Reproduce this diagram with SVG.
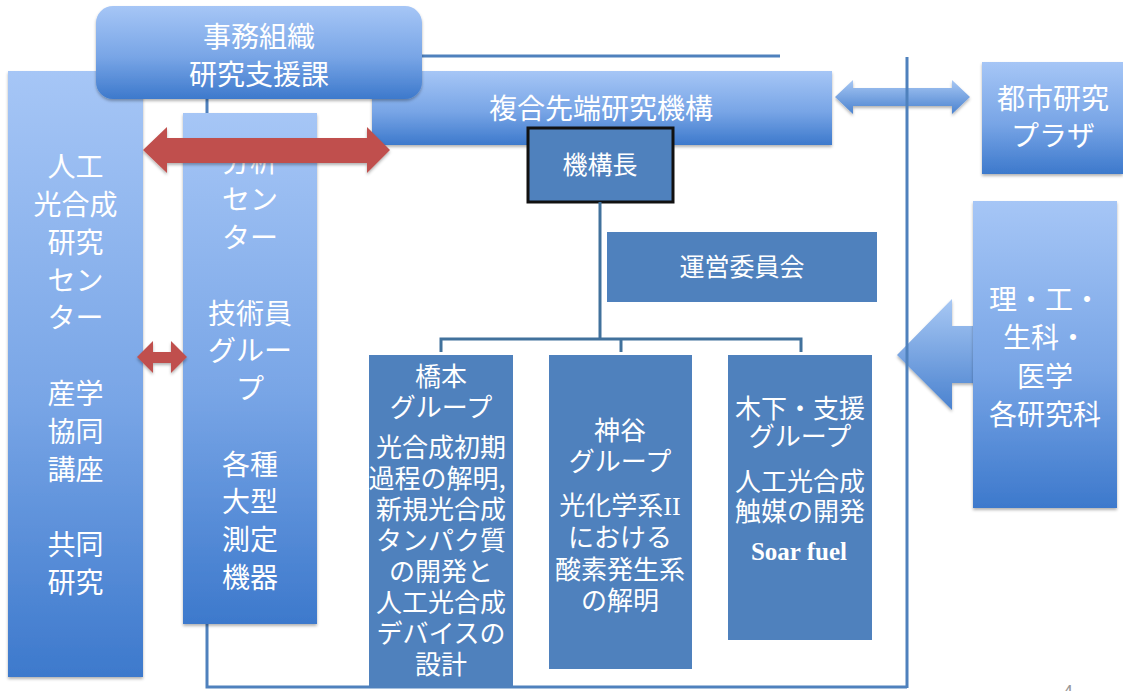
<svg xmlns="http://www.w3.org/2000/svg" width="1123" height="691" viewBox="0 0 1123 691">
<defs>
<linearGradient id="gb" x1="0" y1="0" x2="0" y2="1">
<stop offset="0" stop-color="#a6c6f6"/>
<stop offset="0.55" stop-color="#78a5e6"/>
<stop offset="1" stop-color="#3d79cc"/>
</linearGradient>
<linearGradient id="ga" x1="0" y1="0" x2="0" y2="1">
<stop offset="0" stop-color="#a8c8f4"/>
<stop offset="1" stop-color="#4a82cf"/>
</linearGradient>
<filter id="sh" x="-10%" y="-10%" width="130%" height="130%">
<feDropShadow dx="0" dy="2" stdDeviation="1.5" flood-color="#000" flood-opacity="0.3"/>
</filter>
</defs>
<style>
.t{font-family:"Noto Sans CJK JP","Noto Sans",sans-serif;fill:#fff;text-anchor:middle}
.big{font-size:28px}
.mid{font-size:26px}
.sm{font-size:25px}
.grad{fill:url(#gb);filter:url(#sh)}
.flat{fill:#4f81bd}
.ln{stroke:#4f81bd;stroke-width:3;fill:none}
.ln2{stroke:#41719c;stroke-width:3;fill:none}
.red{fill:#c0504d;filter:url(#sh)}
.barr{fill:url(#ga);filter:url(#sh)}
</style>
<rect width="1123" height="691" fill="#fff"/>

<g id="connectors-back">
<line class="ln" x1="400" y1="56" x2="780" y2="56"/>
<line class="ln" x1="207" y1="95" x2="207" y2="115"/>
<polyline class="ln" points="207,620 207,687 907,687"/>
</g>

<g id="n-left">
<rect class="grad" x="8" y="71" width="135" height="606"/>
<text class="t big" x="75.5"><tspan x="75.5" y="177">人工</tspan><tspan x="75.5" y="215">光合成</tspan><tspan x="75.5" y="253">研究</tspan><tspan x="75.5" y="291">セン</tspan><tspan x="75.5" y="328">ター</tspan><tspan x="75.5" y="404">産学</tspan><tspan x="75.5" y="442">協同</tspan><tspan x="75.5" y="480">講座</tspan><tspan x="75.5" y="555">共同</tspan><tspan x="75.5" y="593">研究</tspan></text>
</g>

<g id="n-bunseki">
<rect class="grad" x="183" y="113" width="134" height="511"/>
<text class="t big" x="250"><tspan x="250" y="172">分析</tspan><tspan x="250" y="210">セン</tspan><tspan x="250" y="248">ター</tspan><tspan x="250" y="324">技術員</tspan><tspan x="250" y="361">グルー</tspan><tspan x="250" y="399">プ</tspan><tspan x="250" y="475">各種</tspan><tspan x="250" y="512">大型</tspan><tspan x="250" y="550">測定</tspan><tspan x="250" y="588">機器</tspan></text>
</g>

<g id="n-fukugo">
<rect class="grad" x="372" y="71" width="460" height="74"/>
<text class="t big" x="601" y="119">複合先端研究機構</text>
</g>

<g id="n-jimu">
<rect class="grad" x="96" y="6" width="326" height="93" rx="17"/>
<text class="t big"><tspan x="259" y="47">事務組織</tspan><tspan x="259" y="85">研究支援課</tspan></text>
</g>

<g id="n-kikocho">
<rect x="528" y="128" width="145" height="74" fill="#4f81bd" stroke="#111" stroke-width="3"/>
<text class="t sm" x="600" y="174">機構長</text>
</g>

<g id="n-unei">
<rect class="flat" x="607" y="232" width="270" height="70"/>
<text class="t sm" x="742" y="276">運営委員会</text>
</g>

<g id="n-hashimoto">
<rect class="flat" x="369" y="355" width="144" height="331"/>
<text class="t mid"><tspan x="441" y="386">橋本</tspan><tspan x="441" y="417">グループ</tspan><tspan x="441" y="457">光合成初期</tspan><tspan x="437" y="488">過程の解明,</tspan><tspan x="441" y="519">新規光合成</tspan><tspan x="441" y="550">タンパク質</tspan><tspan x="441" y="581">の開発と</tspan><tspan x="441" y="612">人工光合成</tspan><tspan x="441" y="643">デバイスの</tspan><tspan x="441" y="674">設計</tspan></text>
</g>

<g id="n-kamiya">
<rect class="flat" x="549" y="355" width="143" height="314"/>
<text class="t mid"><tspan x="620" y="440">神谷</tspan><tspan x="620" y="471">グループ</tspan><tspan x="620" y="515">光化学系<tspan font-family="Liberation Serif,serif">II</tspan></tspan><tspan x="620" y="547">における</tspan><tspan x="620" y="579">酸素発生系</tspan><tspan x="620" y="610">の解明</tspan></text>
</g>

<g id="n-kinoshita">
<rect class="flat" x="728" y="355" width="144" height="285"/>
<text class="t mid"><tspan x="800" y="418">木下・支援</tspan><tspan x="800" y="446">グループ</tspan><tspan x="800" y="491">人工光合成</tspan><tspan x="800" y="521">触媒の開発</tspan></text>
<text x="799" y="560" font-family="Liberation Serif,serif" font-weight="bold" font-size="25" fill="#fff" text-anchor="middle">Soar fuel</text>
</g>

<g id="n-toshi">
<rect class="grad" x="982" y="62" width="141" height="112"/>
<text class="t big"><tspan x="1053" y="109">都市研究</tspan><tspan x="1053" y="146">プラザ</tspan></text>
</g>

<g id="arrow-big-left">
<path class="barr" d="M897,355 L952,299 L952,326 L980,326 L980,383 L952,383 L952,410 Z"/>
</g>

<g id="n-kenkyuka">
<rect class="grad" x="973" y="201" width="144" height="307"/>
<text class="t big"><tspan x="1045" y="310">理・工・</tspan><tspan x="1045" y="348">生科・</tspan><tspan x="1045" y="387">医学</tspan><tspan x="1045" y="425">各研究科</tspan></text>
</g>

<g id="connectors">
<path class="red" d="M143,150 L167,127 L167,138 L367,138 L367,127 L390,150 L367,173 L367,163 L167,163 L167,173 Z"/>
<path class="red" d="M137,357 L153,341 L153,352 L171,352 L171,341 L187,357 L171,373 L171,363 L153,363 L153,373 Z"/>
<path class="barr" d="M835,97 L853,80 L853,88 L952,88 L952,80 L970,97 L952,114 L952,106 L853,106 L853,114 Z"/>
<line class="ln2" x1="600" y1="202" x2="600" y2="339"/>
<polyline class="ln2" points="441,352 441,339 801,339 801,352"/>
<line class="ln2" x1="621" y1="339" x2="621" y2="352"/>
<line class="ln" x1="907" y1="57" x2="907" y2="688"/>
</g>

<text x="1068" y="698" font-family="Liberation Sans,sans-serif" font-size="18" fill="#999" text-anchor="middle">4</text>
</svg>
